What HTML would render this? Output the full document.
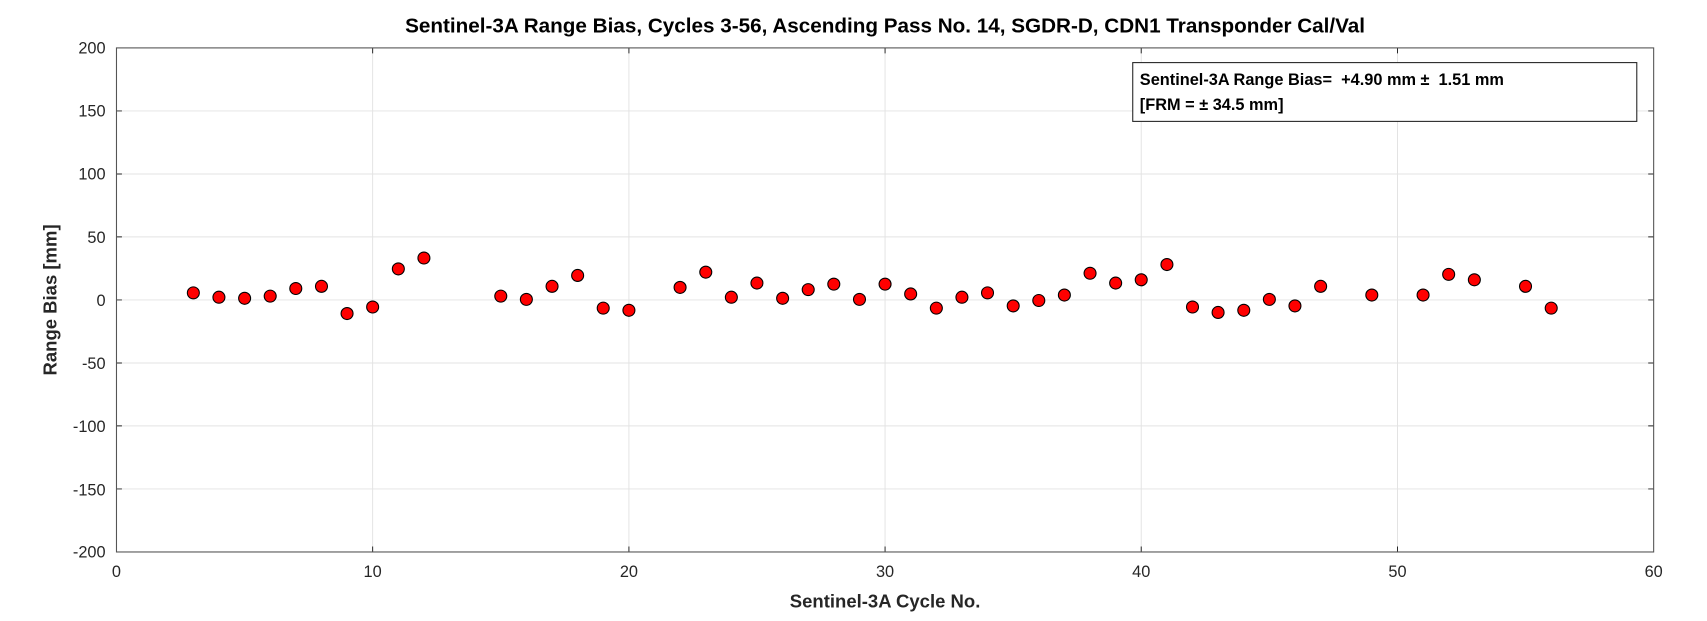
<!DOCTYPE html>
<html><head><meta charset="utf-8"><style>
html,body{margin:0;padding:0;background:#fff;}
svg{display:block;font-family:"Liberation Sans",Arial,sans-serif;}
</style></head><body>
<svg width="1707" height="621" viewBox="0 0 1568 570.4" preserveAspectRatio="none" xmlns="http://www.w3.org/2000/svg">
<rect width="1568" height="570.4" fill="#fff"/>
<g stroke="#e3e3e3" stroke-width="0.9">
<line x1="342.3" y1="44" x2="342.3" y2="507"/>
<line x1="577.7" y1="44" x2="577.7" y2="507"/>
<line x1="813" y1="44" x2="813" y2="507"/>
<line x1="1048.3" y1="44" x2="1048.3" y2="507"/>
<line x1="1283.7" y1="44" x2="1283.7" y2="507"/>
<line x1="107" y1="101.9" x2="1519" y2="101.9"/>
<line x1="107" y1="159.8" x2="1519" y2="159.8"/>
<line x1="107" y1="217.6" x2="1519" y2="217.6"/>
<line x1="107" y1="275.5" x2="1519" y2="275.5"/>
<line x1="107" y1="333.4" x2="1519" y2="333.4"/>
<line x1="107" y1="391.2" x2="1519" y2="391.2"/>
<line x1="107" y1="449.1" x2="1519" y2="449.1"/>
</g>
<g stroke="#262626" stroke-width="0.9">
<path d="M342.3 507v-5M577.7 507v-5M813 507v-5M1048.3 507v-5M1283.7 507v-5M342.3 44v5M577.7 44v5M813 44v5M1048.3 44v5M1283.7 44v5"/>
<path d="M107 101.9h5M107 159.8h5M107 217.6h5M107 275.5h5M107 333.4h5M107 391.2h5M107 449.1h5M1519 101.9h-5M1519 159.8h-5M1519 217.6h-5M1519 275.5h-5M1519 333.4h-5M1519 391.2h-5M1519 449.1h-5"/>
</g>
<rect x="107" y="44" width="1412" height="463" fill="none" stroke="#555" stroke-width="1"/>
<g font-size="15" fill="#262626" text-anchor="end">
<text x="97" y="49">200</text><text x="97" y="107">150</text><text x="97" y="165">100</text>
<text x="97" y="223">50</text><text x="97" y="281">0</text><text x="97" y="339">-50</text>
<text x="97" y="397">-100</text><text x="97" y="455">-150</text><text x="97" y="512">-200</text>
</g>
<g font-size="15" fill="#262626" text-anchor="middle">
<text x="107" y="530">0</text><text x="342.3" y="530">10</text><text x="577.7" y="530">20</text>
<text x="813" y="530">30</text><text x="1048.3" y="530">40</text><text x="1283.7" y="530">50</text><text x="1519" y="530">60</text>
</g>
<text x="813" y="30" font-size="19" font-weight="bold" text-anchor="middle" fill="#000">Sentinel-3A Range Bias, Cycles 3-56, Ascending Pass No. 14, SGDR-D, CDN1 Transponder Cal/Val</text>
<text x="813" y="558" font-size="17" font-weight="bold" text-anchor="middle" fill="#262626">Sentinel-3A Cycle No.</text>
<text transform="translate(52,275.5) rotate(-90)" font-size="17" font-weight="bold" text-anchor="middle" fill="#262626">Range Bias [mm]</text>
<g fill="#ff0000" stroke="#000" stroke-width="1">
<circle cx="177.6" cy="269" r="5.5"/><circle cx="201.1" cy="273" r="5.5"/><circle cx="224.7" cy="274" r="5.5"/>
<circle cx="248.2" cy="272" r="5.5"/><circle cx="271.7" cy="265" r="5.5"/><circle cx="295.3" cy="263" r="5.5"/>
<circle cx="318.8" cy="288" r="5.5"/><circle cx="342.3" cy="282" r="5.5"/><circle cx="365.9" cy="247" r="5.5"/>
<circle cx="389.4" cy="237" r="5.5"/><circle cx="460" cy="272" r="5.5"/><circle cx="483.5" cy="275" r="5.5"/>
<circle cx="507.1" cy="263" r="5.5"/><circle cx="530.6" cy="253" r="5.5"/><circle cx="554.1" cy="283" r="5.5"/>
<circle cx="577.7" cy="285" r="5.5"/><circle cx="624.7" cy="264" r="5.5"/><circle cx="648.3" cy="250" r="5.5"/>
<circle cx="671.8" cy="273" r="5.5"/><circle cx="695.3" cy="260" r="5.5"/><circle cx="718.9" cy="274" r="5.5"/>
<circle cx="742.4" cy="266" r="5.5"/><circle cx="765.9" cy="261" r="5.5"/><circle cx="789.5" cy="275" r="5.5"/>
<circle cx="813" cy="261" r="5.5"/><circle cx="836.5" cy="270" r="5.5"/><circle cx="860.1" cy="283" r="5.5"/>
<circle cx="883.6" cy="273" r="5.5"/><circle cx="907.1" cy="269" r="5.5"/><circle cx="930.7" cy="281" r="5.5"/>
<circle cx="954.2" cy="276" r="5.5"/><circle cx="977.7" cy="271" r="5.5"/><circle cx="1001.3" cy="251" r="5.5"/>
<circle cx="1024.8" cy="260" r="5.5"/><circle cx="1048.3" cy="257" r="5.5"/><circle cx="1071.9" cy="243" r="5.5"/>
<circle cx="1095.4" cy="282" r="5.5"/><circle cx="1118.9" cy="287" r="5.5"/><circle cx="1142.5" cy="285" r="5.5"/>
<circle cx="1166" cy="275" r="5.5"/><circle cx="1189.5" cy="281" r="5.5"/><circle cx="1213.1" cy="263" r="5.5"/>
<circle cx="1260.1" cy="271" r="5.5"/><circle cx="1307.2" cy="271" r="5.5"/><circle cx="1330.7" cy="252" r="5.5"/>
<circle cx="1354.3" cy="257" r="5.5"/><circle cx="1401.3" cy="263" r="5.5"/><circle cx="1424.9" cy="283" r="5.5"/>
</g>
<rect x="1040.5" y="57.5" width="463" height="54" fill="#fff" stroke="#262626" stroke-width="1"/>
<g font-size="15" font-weight="bold" fill="#000">
<text x="1047" y="78" xml:space="preserve">Sentinel-3A Range Bias=  +4.90 mm ±  1.51 mm</text>
<text x="1047" y="101">[FRM = ± 34.5 mm]</text>
</g>
</svg>
</body></html>
